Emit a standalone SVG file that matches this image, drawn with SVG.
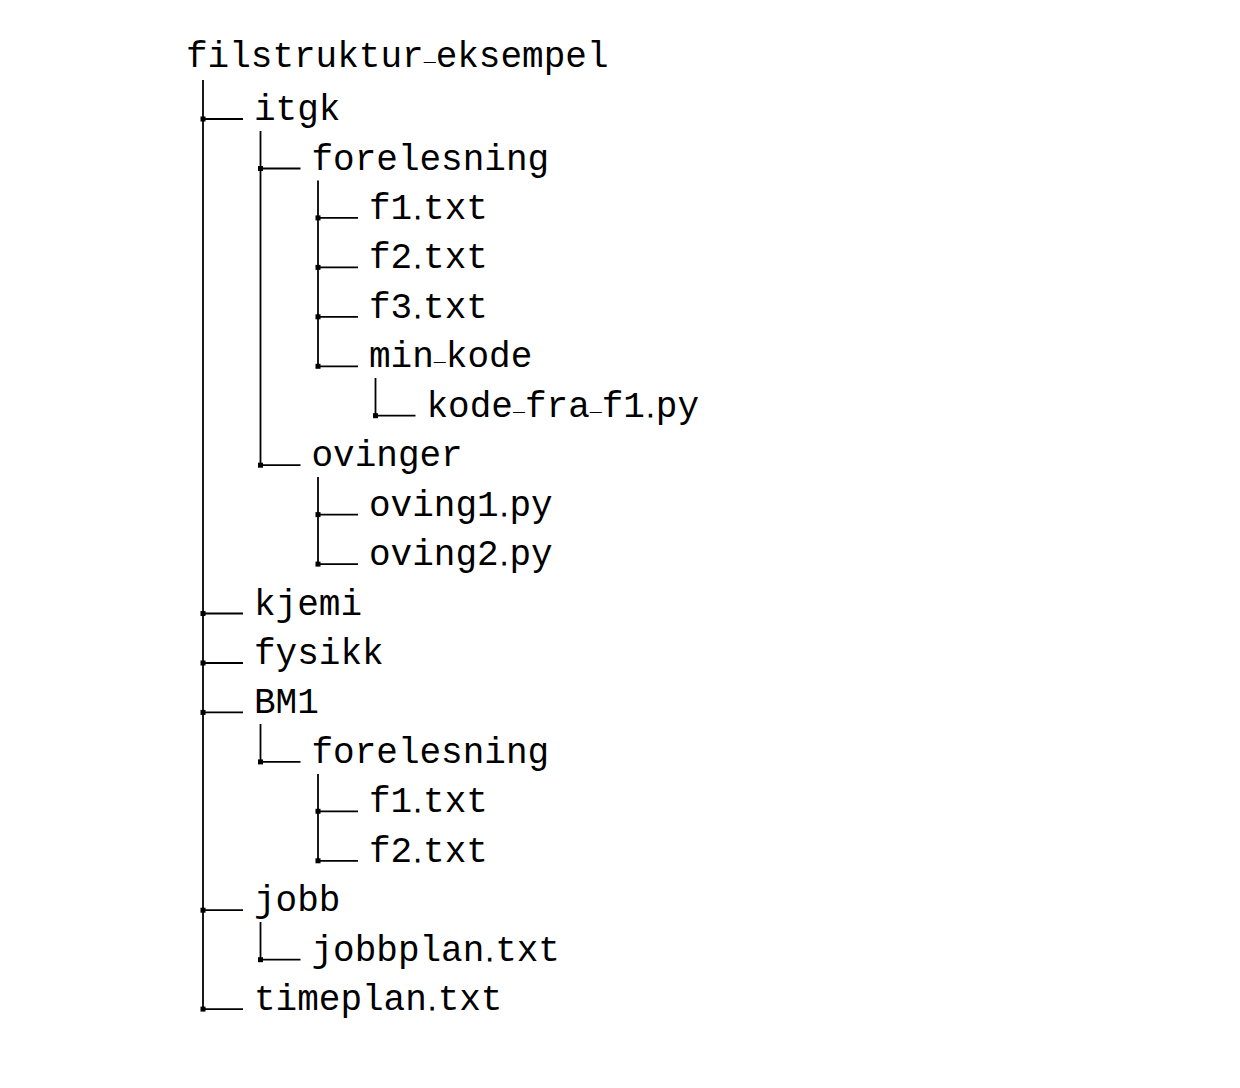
<svg xmlns="http://www.w3.org/2000/svg" width="1240" height="1088" viewBox="0 0 1240 1088">
<style>
text{font-family:"Liberation Mono","DejaVu Sans Mono",monospace;font-size:36px;fill:#000}
.u{font-size:20px}
.d{font-size:18px;stroke:#000;stroke-width:1.2}
.e line{stroke:#000;stroke-width:1.8}
.e rect{fill:#000}
</style>
<rect width="1240" height="1088" fill="#fff"/>
<g class="e" id="connectors">
<line x1="203" y1="80" x2="203" y2="1009.1"/>
<line x1="260.5" y1="131" x2="260.5" y2="465.2"/>
<line x1="318" y1="180.5" x2="318" y2="366.3"/>
<line x1="375.5" y1="378" x2="375.5" y2="415.7"/>
<line x1="318" y1="477" x2="318" y2="564.1"/>
<line x1="260.5" y1="724" x2="260.5" y2="761.9"/>
<line x1="318" y1="774" x2="318" y2="860.8"/>
<line x1="260.5" y1="922" x2="260.5" y2="959.7"/>
<line x1="203" y1="119" x2="243" y2="119"/><rect x="200.5" y="116.5" width="5" height="5"/>
<line x1="260.5" y1="168.5" x2="300.5" y2="168.5"/><rect x="258" y="166" width="5" height="5"/>
<line x1="318" y1="217.9" x2="358" y2="217.9"/><rect x="315.5" y="215.4" width="5" height="5"/>
<line x1="318" y1="267.4" x2="358" y2="267.4"/><rect x="315.5" y="264.9" width="5" height="5"/>
<line x1="318" y1="316.8" x2="358" y2="316.8"/><rect x="315.5" y="314.3" width="5" height="5"/>
<line x1="318" y1="366.3" x2="358" y2="366.3"/><rect x="315.5" y="363.8" width="5" height="5"/>
<line x1="375.5" y1="415.7" x2="415.5" y2="415.7"/><rect x="373" y="413.2" width="5" height="5"/>
<line x1="260.5" y1="465.2" x2="300.5" y2="465.2"/><rect x="258" y="462.7" width="5" height="5"/>
<line x1="318" y1="514.6" x2="358" y2="514.6"/><rect x="315.5" y="512.1" width="5" height="5"/>
<line x1="318" y1="564.1" x2="358" y2="564.1"/><rect x="315.5" y="561.6" width="5" height="5"/>
<line x1="203" y1="613.5" x2="243" y2="613.5"/><rect x="200.5" y="611" width="5" height="5"/>
<line x1="203" y1="663" x2="243" y2="663"/><rect x="200.5" y="660.5" width="5" height="5"/>
<line x1="203" y1="712.4" x2="243" y2="712.4"/><rect x="200.5" y="709.9" width="5" height="5"/>
<line x1="260.5" y1="761.9" x2="300.5" y2="761.9"/><rect x="258" y="759.4" width="5" height="5"/>
<line x1="318" y1="811.3" x2="358" y2="811.3"/><rect x="315.5" y="808.8" width="5" height="5"/>
<line x1="318" y1="860.8" x2="358" y2="860.8"/><rect x="315.5" y="858.3" width="5" height="5"/>
<line x1="203" y1="910.2" x2="243" y2="910.2"/><rect x="200.5" y="907.7" width="5" height="5"/>
<line x1="260.5" y1="959.7" x2="300.5" y2="959.7"/><rect x="258" y="957.2" width="5" height="5"/>
<line x1="203" y1="1009.1" x2="243" y2="1009.1"/><rect x="200.5" y="1006.6" width="5" height="5"/>
</g>
<g id="root"><text x="186" y="67">filstruktur<tspan class="u" dy="-6">_</tspan><tspan dy="6">eksempel</tspan></text></g>
<g id="itgk"><text x="254" y="120">itgk</text></g>
<g id="forelesning1"><text x="311.5" y="169.5">forelesning</text></g>
<g id="f1_1"><text x="369" y="219">f1<tspan class="d">.</tspan>txt</text></g>
<g id="f2_1"><text x="369" y="268.4">f2<tspan class="d">.</tspan>txt</text></g>
<g id="f3_1"><text x="369" y="317.8">f3<tspan class="d">.</tspan>txt</text></g>
<g id="min_kode"><text x="369" y="367.3">min<tspan class="u" dy="-6">_</tspan><tspan dy="6">kode</tspan></text></g>
<g id="kode_fra_f1"><text x="426.5" y="416.7">kode<tspan class="u" dy="-6">_</tspan><tspan dy="6">fra</tspan><tspan class="u" dy="-6">_</tspan><tspan dy="6">f1</tspan><tspan class="d">.</tspan>py</text></g>
<g id="ovinger"><text x="311.5" y="466.2">ovinger</text></g>
<g id="oving1"><text x="369" y="515.6">oving1<tspan class="d">.</tspan>py</text></g>
<g id="oving2"><text x="369" y="565.1">oving2<tspan class="d">.</tspan>py</text></g>
<g id="kjemi"><text x="254" y="614.5">kjemi</text></g>
<g id="fysikk"><text x="254" y="664">fysikk</text></g>
<g id="BM1"><text x="254" y="713.4">BM1</text></g>
<g id="forelesning2"><text x="311.5" y="762.9">forelesning</text></g>
<g id="f1_2"><text x="369" y="812.3">f1<tspan class="d">.</tspan>txt</text></g>
<g id="f2_2"><text x="369" y="861.8">f2<tspan class="d">.</tspan>txt</text></g>
<g id="jobb"><text x="254" y="911.2">jobb</text></g>
<g id="jobbplan"><text x="311.5" y="960.7">jobbplan<tspan class="d">.</tspan>txt</text></g>
<g id="timeplan"><text x="254" y="1010.1">timeplan<tspan class="d">.</tspan>txt</text></g>
</svg>
